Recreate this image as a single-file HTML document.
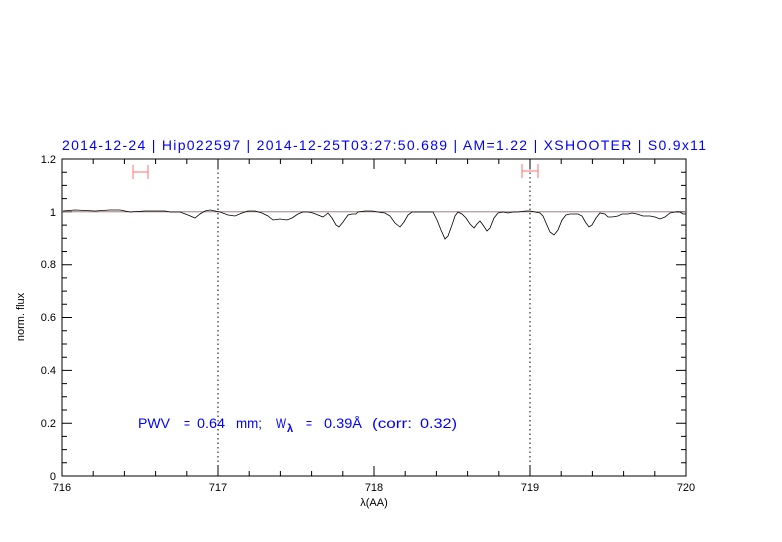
<!DOCTYPE html>
<html><head><meta charset="utf-8"><style>body{margin:0;background:#fff}svg{display:block}</style></head><body>
<svg width="782" height="542" xmlns="http://www.w3.org/2000/svg" font-family="Liberation Sans, sans-serif">
<rect width="782" height="542" fill="#fff"/>
<text x="62" y="150" fill="#0000ff" font-size="14" textLength="644" lengthAdjust="spacing">2014-12-24 | Hip022597 | 2014-12-25T03:27:50.689 | AM=1.22 | XSHOOTER | S0.9x11</text>
<rect x="62" y="159" width="624" height="317" fill="none" stroke="#000" stroke-width="1"/>
<g stroke="#000" stroke-width="1">
<path d="M93.2,476v-5M124.4,476v-5M155.6,476v-5M186.8,476v-5M249.2,476v-5M280.4,476v-5M311.6,476v-5M342.8,476v-5M405.2,476v-5M436.4,476v-5M467.6,476v-5M498.8,476v-5M561.2,476v-5M592.4,476v-5M623.6,476v-5M654.8,476v-5
M93.2,159v5M124.4,159v5M155.6,159v5M186.8,159v5M249.2,159v5M280.4,159v5M311.6,159v5M342.8,159v5M405.2,159v5M436.4,159v5M467.6,159v5M498.8,159v5M561.2,159v5M592.4,159v5M623.6,159v5M654.8,159v5
M218,476v-10M374,476v-10M530,476v-10M218,159v10M374,159v10M530,159v10"/>
<path d="M62,423.2h10M62,370.4h10M62,317.5h10M62,264.7h10M62,211.8h10M686,423.2h-10M686,370.4h-10M686,317.5h-10M686,264.7h-10M686,211.8h-10
M62,462.8h5M62,449.6h5M62,436.4h5M62,410h5M62,396.8h5M62,383.6h5M62,357.2h5M62,344h5M62,330.7h5M62,304.3h5M62,291.1h5M62,277.9h5M62,251.5h5M62,238.3h5M62,225.1h5M62,198.6h5M62,185.4h5M62,172.2h5
M686,462.8h-5M686,449.6h-5M686,436.4h-5M686,410h-5M686,396.8h-5M686,383.6h-5M686,357.2h-5M686,344h-5M686,330.7h-5M686,304.3h-5M686,291.1h-5M686,277.9h-5M686,251.5h-5M686,238.3h-5M686,225.1h-5M686,198.6h-5M686,185.4h-5M686,172.2h-5"/>
</g>
<g font-size="11" fill="#000" text-anchor="middle">
<text x="62" y="491">716</text><text x="218" y="491">717</text><text x="374" y="491">718</text><text x="530" y="491">719</text><text x="686" y="491">720</text>
<text x="374" y="506">λ(AA)</text>
</g>
<g font-size="11" fill="#000" text-anchor="end">
<text x="56" y="480">0</text><text x="56" y="427">0.2</text><text x="56" y="374">0.4</text><text x="56" y="321">0.6</text><text x="56" y="268">0.8</text><text x="56" y="216">1</text><text x="56" y="163">1.2</text>
</g>
<text transform="translate(24,317) rotate(-90)" font-size="11" text-anchor="middle">norm. flux</text>
<path d="M218,159V476M530,159V476" stroke="#000" stroke-width="1" stroke-dasharray="1.5,3"/>
<path d="M62,211.8H686" stroke="#907070" stroke-width="0.8"/>
<path d="M133,165v14M148,165v14M133,172H148M522,164v14M538,164v14M522,171H538" stroke="#ff7070" stroke-width="1"/>
<polyline fill="none" stroke="#000" stroke-width="0.8" points="63,211 75,210 95,211 110,210 120,210 130,212 145,211 165,211 170,212 180,212 188,215 195,218 200,214 205,211 210,210 215,211 220,212 228,215 235,216 242,213 248,211 255,211 262,213 268,216 273,220 280,219 287,220 292,218 298,214 303,212 308,212 313,213 318,215 323,217 328,213 332,218 336,225 339,227 343,222 348,215 352,214 356,214 358,212 365,211 372,211 378,212 385,213 390,216 395,223 400,227 404,222 408,215 412,212 420,212 428,212 433,212 437,220 441,230 445,239 448,236 452,225 455,216 458,212 462,214 466,218 470,224 474,228 477,224 480,221 483,225 487,231 490,228 494,218 498,213 503,212 508,213 513,212 518,212 526,211 530,211 535,212 540,213 543,216 546,223 550,232 554,235 558,230 562,220 566,215 570,214 578,214 582,216 586,223 589,227 592,225 596,218 600,213 605,214 608,217 612,217 618,216 622,214 628,214 632,213 637,214 643,216 650,216 655,217 660,219 665,217 670,213 675,212 680,212 683,214 686,214"/>
<g fill="#0000ff" font-size="14" lengthAdjust="spacingAndGlyphs">
<text x="138" y="428" textLength="32" lengthAdjust="spacingAndGlyphs">PWV</text>
<text x="184" y="428" textLength="6" lengthAdjust="spacingAndGlyphs">=</text>
<text x="197" y="428" textLength="28" lengthAdjust="spacingAndGlyphs">0.64</text>
<text x="236" y="428" textLength="26" lengthAdjust="spacingAndGlyphs">mm;</text>
<text x="276" y="428" textLength="10" lengthAdjust="spacingAndGlyphs">W</text>
<text x="287" y="432" font-size="11" font-weight="bold">λ</text>
<text x="306" y="428" textLength="6" lengthAdjust="spacingAndGlyphs">=</text>
<text x="324" y="428" textLength="38" lengthAdjust="spacingAndGlyphs">0.39Å</text>
<text x="372" y="428" textLength="40" lengthAdjust="spacingAndGlyphs">(corr:</text>
<text x="420" y="428" textLength="37" lengthAdjust="spacingAndGlyphs">0.32)</text>
</g>
</svg>
</body></html>
